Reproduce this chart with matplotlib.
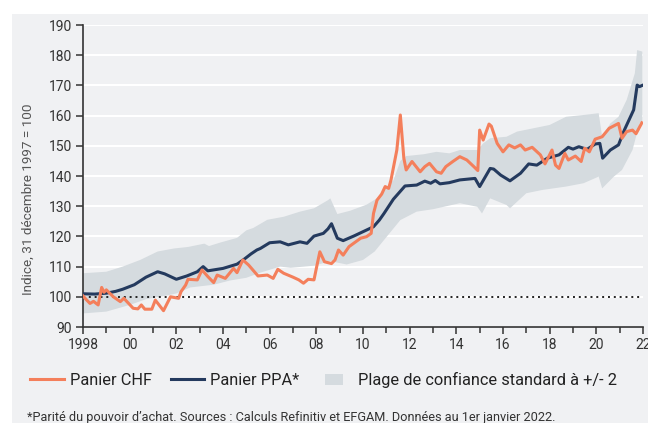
import numpy as np
import matplotlib
matplotlib.use("Agg")
import matplotlib.pyplot as plt
import matplotlib.patches as mpatches
from matplotlib.lines import Line2D
from matplotlib.legend_handler import HandlerPatch

plt.rcParams['font.family'] = ['Roboto', 'DejaVu Sans']

# ---------------- data ----------------
ppa_x = [1998.0, 1998.5, 1999.0, 1999.4, 1999.7, 2000.2, 2000.7, 2001.2, 2001.5, 2002.0,
         2002.45, 2002.9, 2003.15, 2003.35, 2004.0, 2004.6, 2004.9, 2005.2, 2005.45, 2005.6,
         2006.0, 2006.45, 2006.8, 2007.3, 2007.6, 2007.9, 2008.3, 2008.5, 2008.65, 2008.9,
         2009.15, 2009.6, 2010.15, 2010.45, 2010.7, 2010.9, 2011.3, 2011.8, 2012.3, 2012.65,
         2012.9, 2013.1, 2013.3, 2013.7, 2014.15, 2014.8, 2015.0, 2015.45, 2015.6, 2015.9,
         2016.3, 2016.75, 2017.1, 2017.45, 2017.9, 2018.4, 2018.8, 2019.0, 2019.25, 2019.6,
         2019.95, 2020.15, 2020.27, 2020.6, 2020.95, 2021.2, 2021.6, 2021.75, 2021.85, 2021.97]
ppa_y = [101.0, 100.9, 101.2, 101.8, 102.5, 104.0, 106.5, 108.3, 107.6, 105.8,
         106.9, 108.3, 110.0, 108.6, 109.4, 110.8, 112.4, 114.2, 115.5, 116.0,
         117.9, 118.2, 117.2, 118.2, 117.7, 120.1, 121.0, 122.5, 124.2, 119.4,
         118.6, 120.1, 122.1, 123.2, 125.4, 127.6, 132.3, 136.7, 137.0, 138.3,
         137.6, 138.5, 137.4, 137.8, 138.7, 139.2, 136.5, 142.5, 142.3, 140.3,
         138.4, 140.9, 144.0, 143.6, 145.9, 147.0, 149.5, 148.9, 149.7, 148.8,
         150.6, 150.8, 145.9, 148.6, 150.3, 155.2, 161.9, 170.1, 169.6, 170.0]

chf_x = [1998.0, 1998.15, 1998.3, 1998.45, 1998.65, 1998.8, 1998.9, 1999.0, 1999.3, 1999.6,
         1999.75, 2000.15, 2000.35, 2000.5, 2000.65, 2000.95, 2001.1, 2001.45, 2001.75, 2002.1,
         2002.2, 2002.4, 2002.5, 2002.9, 2003.1, 2003.35, 2003.6, 2003.75, 2004.1, 2004.45,
         2004.6, 2004.85, 2005.1, 2005.5, 2005.9, 2006.15, 2006.35, 2006.6, 2007.0, 2007.25,
         2007.45, 2007.65, 2007.9, 2008.0, 2008.15, 2008.35, 2008.65, 2008.8, 2008.95, 2009.15,
         2009.4, 2009.9, 2010.15, 2010.35, 2010.45, 2010.6, 2010.8, 2010.95, 2011.1, 2011.2,
         2011.45, 2011.6, 2011.75, 2011.85, 2012.1, 2012.45, 2012.65, 2012.85, 2013.15, 2013.35,
         2013.55, 2013.85, 2014.15, 2014.45, 2014.75, 2014.92, 2015.0, 2015.15, 2015.4, 2015.5,
         2015.75, 2016.0, 2016.25, 2016.5, 2016.75, 2016.95, 2017.25, 2017.6, 2017.8, 2018.1,
         2018.25, 2018.4, 2018.65, 2018.8, 2019.1, 2019.35, 2019.5, 2019.7, 2019.95, 2020.25,
         2020.55, 2020.75, 2020.95, 2021.1, 2021.3, 2021.55, 2021.7, 2021.95]
chf_y = [100.3, 99.0, 97.8, 98.5, 97.3, 103.1, 101.5, 102.3, 100.0, 98.4,
         99.5, 96.2, 96.0, 97.3, 95.9, 95.9, 98.9, 95.4, 100.0, 99.5,
         101.7, 103.9, 105.8, 105.6, 108.9, 106.7, 104.7, 107.2, 106.1, 109.4,
         108.0, 112.2, 110.5, 106.9, 107.2, 106.1, 109.1, 107.8, 106.5, 105.6,
         104.5, 105.8, 105.6, 109.4, 114.9, 111.6, 111.0, 112.2, 115.5, 113.8,
         116.6, 119.4, 119.9, 121.0, 127.6, 132.0, 134.0, 136.5, 135.9, 138.7,
         148.6, 160.2, 145.9, 142.0, 144.8, 141.4, 143.1, 144.2, 141.4, 140.9,
         143.1, 144.8, 146.4, 145.3, 143.1, 141.8, 155.2, 151.9, 157.2, 156.5,
         150.8, 148.0, 150.3, 149.3, 150.3, 148.6, 149.5, 147.0, 144.0, 148.6,
         143.6, 142.5, 147.5, 145.3, 146.6, 144.8, 149.2, 148.0, 152.2, 153.0,
         155.8, 156.6, 157.4, 152.5, 154.7, 155.2, 154.0, 157.6]

band_up_x = [1998.0, 1999.0, 1999.7, 2000.45, 2001.2, 2001.9, 2002.5, 2003.2, 2003.4, 2003.9,
             2004.6, 2005.0, 2005.3, 2005.9, 2006.6, 2007.3, 2007.9, 2008.5, 2008.6, 2008.9,
             2009.45, 2010.15, 2010.6, 2011.15, 2011.3, 2011.6, 2011.85, 2012.6, 2013.15, 2013.7,
             2014.15, 2014.9, 2015.15, 2015.45, 2016.15, 2016.6, 2017.3, 2018.0, 2018.7, 2019.45,
             2020.1, 2020.25, 2020.6, 2020.95, 2021.3, 2021.65, 2021.75, 2021.97]
band_up_y = [107.8, 108.3, 110.0, 112.2, 115.0, 116.0, 116.5, 117.6, 116.8, 118.0,
             119.5, 122.0, 122.8, 125.5, 126.5, 128.2, 129.3, 132.0, 132.6, 127.4,
             128.5, 130.5, 132.6, 137.6, 138.5, 145.0, 146.6, 147.2, 148.0, 147.5,
             148.6, 148.6, 150.8, 152.5, 153.0, 154.7, 155.8, 156.9, 159.6, 160.2,
             160.8, 153.0, 157.4, 159.6, 165.2, 174.0, 181.7, 181.2]

band_lo_x = [1998.0, 1999.0, 2000.0, 2000.7, 2001.3, 2002.0, 2002.6, 2003.6, 2004.3, 2005.0,
             2005.6, 2006.45, 2006.9, 2007.9, 2008.6, 2009.3, 2010.0, 2010.5, 2010.9, 2011.6,
             2012.3, 2013.0, 2014.15, 2014.9, 2015.1, 2015.45, 2016.15, 2016.3, 2017.0, 2017.7,
             2018.7, 2019.45, 2020.1, 2020.25, 2020.75, 2021.1, 2021.55, 2021.85, 2021.97]
band_lo_y = [94.5, 95.1, 97.3, 99.2, 100.0, 101.1, 103.1, 104.0, 105.4, 106.3,
             108.0, 110.0, 109.6, 110.3, 111.8, 110.7, 112.2, 115.0, 118.8, 125.4,
             128.2, 129.0, 131.0, 129.8, 127.6, 132.6, 130.4, 129.3, 134.3, 135.4,
             136.5, 137.6, 139.8, 135.9, 139.8, 142.0, 148.6, 157.4, 158.0]

year_ticks = list(range(1998, 2023, 2))
year_labels = ['1998'] + ['%02d' % (y % 100) for y in year_ticks[1:]]
y_ticks = list(range(90, 191, 10))

legend_labels = ['Panier CHF', 'Panier PPA*', 'Plage de confiance standard à +/- 2']
ylabel = 'Indice, 31 décembre 1997 = 100'
footnote = ("*Parité du pouvoir d\u2019achat. Sources : Calculs Refinitiv et EFGAM. "
            "Données au 1er janvier 2022.")

# ---------------- style ----------------
BG = '#f0f1f3'
ORANGE = '#f47f5b'
NAVY = '#243a5e'
BAND = '#d5dbdf'
TXT = '#333333'

W, H = 648, 423
fig = plt.figure(figsize=(W / 100, H / 100), dpi=100, facecolor='white')
fig.patches.append(mpatches.Rectangle((12 / W, 0), 1 - 12 / W, (H - 14) / H,
                                      transform=fig.transFigure, facecolor=BG,
                                      edgecolor='none', zorder=-10))

ax = fig.add_axes([83 / W, (H - 327) / H, (643 - 83) / W, (327 - 25) / H])
ax.set_facecolor(BG)

ax.fill(np.r_[band_up_x, band_lo_x[::-1]], np.r_[band_up_y, band_lo_y[::-1]],
        color=BAND, lw=0, zorder=1)
ax.axhline(100, color='#222222', lw=1.4, ls=(0, (1, 2)), zorder=2)
ax.plot(ppa_x, ppa_y, color=NAVY, lw=2.2, zorder=3, solid_joinstyle='round')
ax.plot(chf_x, chf_y, color=ORANGE, lw=2.2, zorder=4, solid_joinstyle='round')

ax.set_xlim(1998, 2022)
ax.set_ylim(90, 190)
ax.set_yticks(y_ticks)
ax.set_xticks(year_ticks)
ax.set_xticklabels(year_labels)
ax.set_xticks(range(1998, 2023), minor=True)
ax.grid(axis='y', color='white', lw=1.5, zorder=0)
ax.set_axisbelow(True)
for s in ['top', 'right']:
    ax.spines[s].set_visible(False)
for s in ['left', 'bottom']:
    ax.spines[s].set_color('#333333')
    ax.spines[s].set_linewidth(1.2)
ax.tick_params(axis='both', which='both', direction='out', length=5, width=1.1,
               color='#333333', labelcolor=TXT, labelsize=10, pad=3)
ax.tick_params(axis='x', which='minor', length=4)
ax.set_ylabel(ylabel, fontsize=9.7, color='#555555')
ax.yaxis.set_label_coords((35 - 83) / 560, (327 - 199) / 302)

def square_patch(legend, orig_handle, xdescent, ydescent, width, height, fontsize):
    return mpatches.Rectangle((-xdescent + width * 7 / 34, -ydescent), width * 18 / 34, height)

handles = [Line2D([], [], color=ORANGE, lw=2.2),
           Line2D([], [], color=NAVY, lw=2.2),
           mpatches.Patch(facecolor=BAND, edgecolor='none')]
fig.legend(handles, legend_labels, loc='center left', bbox_to_anchor=(30 / W, (H - 380) / H),
           ncol=3, frameon=False, fontsize=11.8, handlelength=2.05, handletextpad=0.37,
           columnspacing=1.15, labelcolor='#222222', borderpad=0, borderaxespad=0,
           handler_map={mpatches.Patch: HandlerPatch(patch_func=square_patch)})

fig.text(27 / W, (H - 421) / H, footnote, fontsize=9.2, color='#333333', va='baseline', ha='left')

fig.savefig('out.png', dpi=100, facecolor=fig.get_facecolor())
